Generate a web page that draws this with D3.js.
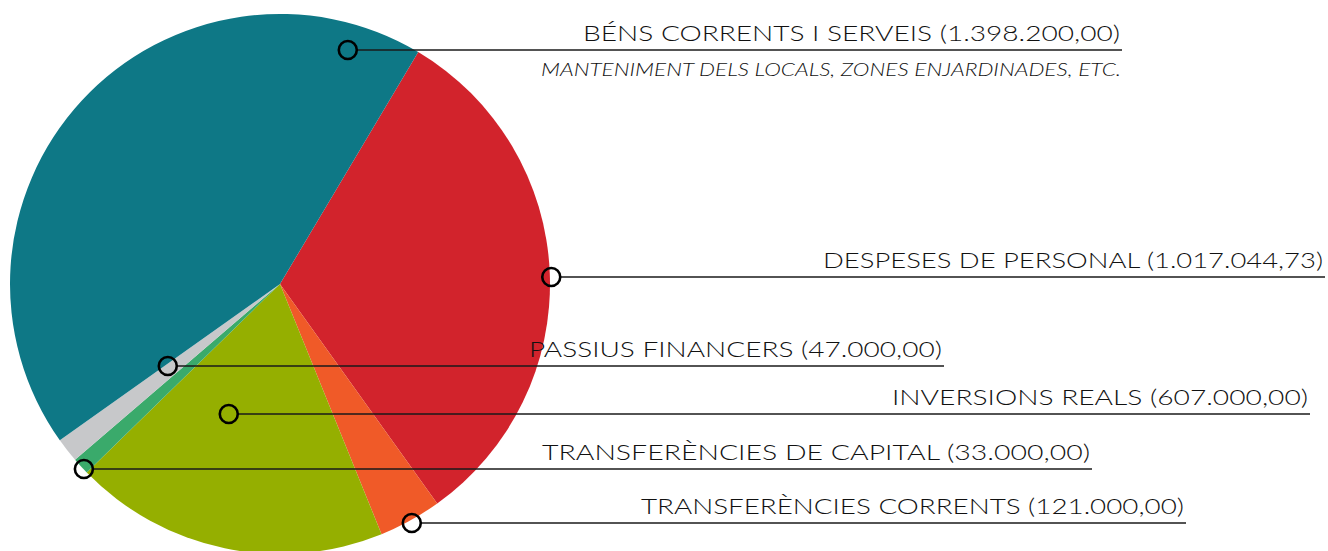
<!DOCTYPE html>
<html>
<head>
<meta charset="utf-8">
<script src="https://cdn.jsdelivr.net/npm/d3@7"></script>
<style>
  body { margin: 0; background: #fff; }
  svg { display: block; }
</style>
</head>
<body>
<div id="chart"></div>
<script>
'use strict';

// data (pie drawn clockwise from the red slice)
const categories = [
  'DESPESES DE PERSONAL',
  'TRANSFERÈNCIES CORRENTS',
  'INVERSIONS REALS',
  'TRANSFERÈNCIES DE CAPITAL',
  'PASSIUS FINANCERS',
  'BÉNS CORRENTS I SERVEIS'
]
const amounts = [1017044.73, 121000, 607000, 33000, 47000, 1398200]
const amount_labels = ['1.017.044,73', '121.000,00', '607.000,00', '33.000,00', '47.000,00', '1.398.200,00']
const subtitles = ['', '', '', '', '', 'MANTENIMENT DELS LOCALS, ZONES ENJARDINADES, ETC.']
const colors = ['#d2232c', '#f05a28', '#95af00', '#3aaa6b', '#c7c8ca', '#0e7886']

// label layout: anchor (angle in degrees, fraction of radius), line y, line end x, text width
const label_layout = [
  { ang: 91.5,  rf: 1.005, y: 277, x_end: 1325, w: 500 },
  { ang: 151.1, rf: 1.01,  y: 523, x_end: 1186, w: 543 },
  { ang: 201.4, rf: 0.52,  y: 414, x_end: 1310, w: 416 },
  { ang: 226.7, rf: 0.998, y: 469, x_end: 1092, w: 548 },
  { ang: 233.8, rf: 0.515, y: 366, x_end: 944,  w: 413 },
  { ang: 16.2,  rf: 0.9,   y: 50,  x_end: 1122, w: 537 }
]

const dims = { width: 1328, height: 551, cx: 280, cy: 284, r: 270 }
const font = 'Lato, "Open Sans", sans-serif'

const svg = d3.select('#chart')
  .append('svg')
  .attr('width', dims.width)
  .attr('height', dims.height)

const rows = categories.map((c, i) => ({
  name: c, value: amounts[i], label: amount_labels[i],
  sub: subtitles[i], color: colors[i], lay: label_layout[i]
}))

const start = 30.8 * Math.PI / 180
const pie = d3.pie()
  .sort(null)
  .value(d => d.value)
  .startAngle(start)
  .endAngle(start + 2 * Math.PI)

const arc = d3.arc().innerRadius(0).outerRadius(dims.r)

const pie_g = svg.append('g')
  .attr('transform', `translate(${dims.cx},${dims.cy})`)

pie_g.selectAll('path')
  .data(pie(rows))
  .join('path')
  .attr('d', arc)
  .attr('fill', d => d.data.color)

// labels
const angle_scale = d3.scaleLinear().domain([0, 360]).range([0, 2 * Math.PI])
const marker_r = 9

const lab_g = svg.append('g')
  .selectAll('g')
  .data(rows)
  .join('g')

lab_g.each(function(d) {
  const g = d3.select(this)
  const a = angle_scale(d.lay.ang)
  const px = dims.cx + Math.sin(a) * dims.r * d.lay.rf
  const py = d.lay.y

  g.append('line')
    .attr('x1', px + marker_r)
    .attr('x2', d.lay.x_end)
    .attr('y1', py)
    .attr('y2', py)
    .attr('stroke', '#1a1a1a')
    .attr('stroke-width', 1.6)

  g.append('circle')
    .attr('cx', px)
    .attr('cy', py)
    .attr('r', marker_r)
    .attr('fill', 'none')
    .attr('stroke', '#000')
    .attr('stroke-width', 2.6)

  g.append('text')
    .attr('x', d.lay.x_end - 2)
    .attr('y', py - 9)
    .attr('text-anchor', 'end')
    .style('font-family', font)
    .style('font-weight', 300)
    .style('font-size', '22px')
    .style('fill', '#111')
    .attr('textLength', d.lay.w)
    .attr('lengthAdjust', 'spacingAndGlyphs')
    .text(`${d.name} (${d.label})`)

  if (d.sub !== '') {
    g.append('text')
      .attr('x', d.lay.x_end - 1)
      .attr('y', py + 26)
      .attr('text-anchor', 'end')
      .style('font-family', font)
      .style('font-weight', 300)
      .style('font-style', 'italic')
      .style('font-size', '17px')
      .style('fill', '#111')
      .attr('textLength', 580)
      .attr('lengthAdjust', 'spacingAndGlyphs')
      .text(d.sub)
  }
})
</script>
</body>
</html>
